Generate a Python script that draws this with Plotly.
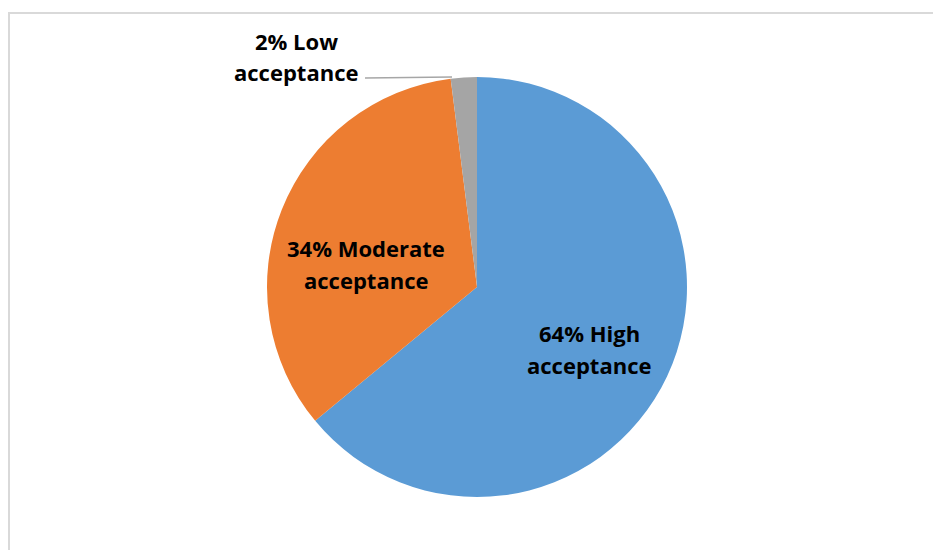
import plotly.graph_objects as go

# Acceptance levels and their shares (%)
categories = ["High acceptance", "Moderate acceptance", "Low acceptance"]
shares = [64, 34, 2]
colors = ["#5B9BD5", "#ED7D31", "#A5A5A5"]

W, H = 933, 550
cx, cy, R = 477, 287, 210  # pie centre and radius in pixels

fig = go.Figure()
fig.add_trace(go.Pie(
    labels=categories,
    values=shares,
    sort=False,
    direction="clockwise",
    rotation=0,
    marker=dict(colors=colors, line=dict(color="white", width=0)),
    textinfo="none",
    hoverinfo="label+percent",
    showlegend=False,
    domain=dict(x=[(cx - R) / W, (cx + R) / W],
                y=[1 - (cy + R) / H, 1 - (cy - R) / H]),
))

# label positions (pixels): centre x, and y of first / second line
label_pos = [(589, 333, 365), (366, 248, 280), (296, 41, 72)]
font = dict(family="Open Sans, sans-serif", size=22, color="#000000")
for i, (lx, ly1, ly2) in enumerate(label_pos):
    word, rest = categories[i].split(" ", 1)
    for txt, ly in ((f"{shares[i]}% {word}", ly1), (rest, ly2)):
        fig.add_annotation(x=lx / W, y=1 - ly / H, xref="paper", yref="paper",
                           text=f"<b>{txt}</b>", showarrow=False, font=font,
                           xanchor="center", yanchor="middle")

# leader line for the small slice
fig.add_shape(type="line", xref="paper", yref="paper",
              x0=365 / W, y0=1 - 78 / H, x1=452 / W, y1=1 - 77 / H,
              line=dict(color="#A6A6A6", width=1.5))

# chart frame
fig.add_shape(type="rect", xref="paper", yref="paper",
              x0=9 / W, y0=-0.05, x1=1.05, y1=1 - 13 / H,
              line=dict(color="#D9D9D9", width=2), layer="below")

fig.update_layout(width=W, height=H, margin=dict(l=0, r=0, t=0, b=0),
                  paper_bgcolor="white", plot_bgcolor="white")
fig.write_html("out.html")
